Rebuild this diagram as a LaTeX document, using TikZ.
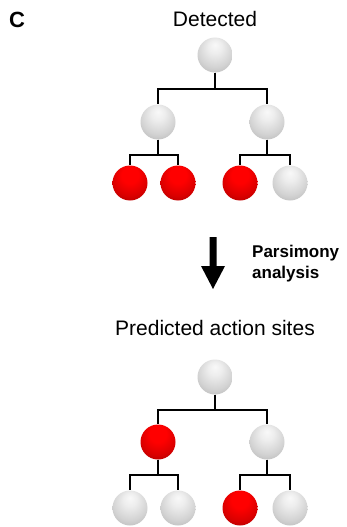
\documentclass[tikz,border=0pt]{standalone}
\usepackage{fontspec}
\setmainfont{Liberation Sans}
\usetikzlibrary{calc}

\pgfdeclareradialshading{graysphere}{\pgfpoint{0bp}{15bp}}{color(0bp)=(gray!5); color(10bp)=(gray!14); color(25bp)=(gray!35); color(38bp)=(gray!60); color(50bp)=(gray!80)}
\pgfdeclareradialshading{redsphere}{\pgfpoint{0bp}{15bp}}{color(0bp)=(red); color(12bp)=(red); color(26bp)=(red!85!black); color(38bp)=(red!62!black); color(50bp)=(red!42!black)}

\tikzset{
  grayball/.style={circle,minimum size=35pt,inner sep=0pt,shading=graysphere},
  redball/.style={circle,minimum size=35pt,inner sep=0pt,shading=redsphere},
  link/.style={line width=1.6pt,black}
}

\begin{document}
\begin{tikzpicture}[x=1pt,y=1pt]
               \useasboundingbox (0,0) rectangle (347,-527);
               \node[anchor=base west,inner sep=0pt,font=\fontsize{22}{24}\selectfont\bfseries] (lbl) at (9,-28) {C};
               % detected
               \node[anchor=base,inner sep=0pt,font=\fontsize{21}{24}\selectfont] (det) at (215,-27) {Detected};
               \node[grayball] (d0) at (215,-55) {};
               \node[grayball] (d1) at (158,-122) {};
               \node[grayball] (d2) at (267,-122) {};
               \node[redball] (d11) at (130,-183) {};
               \node[redball] (d12) at (178,-183) {};
               \node[redball] (d21) at (240,-183) {};
               \node[grayball] (d22) at (290,-183) {};
               \draw[link] (d0.south) -- ++(0,-16) -| (d1.north);
               \draw[link] (d0.south) -- ++(0,-16) -| (d2.north);
               \draw[link] (d1.south) -- ++(0,-15) -| (d11.north);
               \draw[link] (d1.south) -- ++(0,-15) -| (d12.north);
               \draw[link] (d2.south) -- ++(0,-15) -| (d21.north);
               \draw[link] (d2.south) -- ++(0,-15) -| (d22.north);
               % arrow
               \fill[black] (209.5,-237) -- (216.5,-237) -- (216.5,-266) -- (225,-266) -- (213,-289) -- (201,-266) -- (209.5,-266) -- cycle;
               \node[anchor=base west,inner sep=0pt,font=\fontsize{17}{21}\selectfont\bfseries] (pa) at (252,-257) {Parsimony};
               \node[anchor=base west,inner sep=0pt,font=\fontsize{17}{21}\selectfont\bfseries] (an) at (252,-278) {analysis};
               % predicted
               \node[anchor=base,inner sep=0pt,font=\fontsize{21}{24}\selectfont] (pre) at (215,-335) {Predicted action sites};
               \node[grayball] (p0) at (215,-377) {};
               \node[redball] (p1) at (158,-442) {};
               \node[grayball] (p2) at (267,-442) {};
               \node[grayball] (p11) at (130,-508) {};
               \node[grayball] (p12) at (178,-508) {};
               \node[redball] (p21) at (240,-508) {};
               \node[grayball] (p22) at (290,-508) {};
               \draw[link] (p0.south) -- ++(0,-15) -| (p1.north);
               \draw[link] (p0.south) -- ++(0,-15) -| (p2.north);
               \draw[link] (p1.south) -- ++(0,-15) -| (p11.north);
               \draw[link] (p1.south) -- ++(0,-15) -| (p12.north);
               \draw[link] (p2.south) -- ++(0,-15) -| (p21.north);
               \draw[link] (p2.south) -- ++(0,-15) -| (p22.north);
            \end{tikzpicture}
\end{document}
